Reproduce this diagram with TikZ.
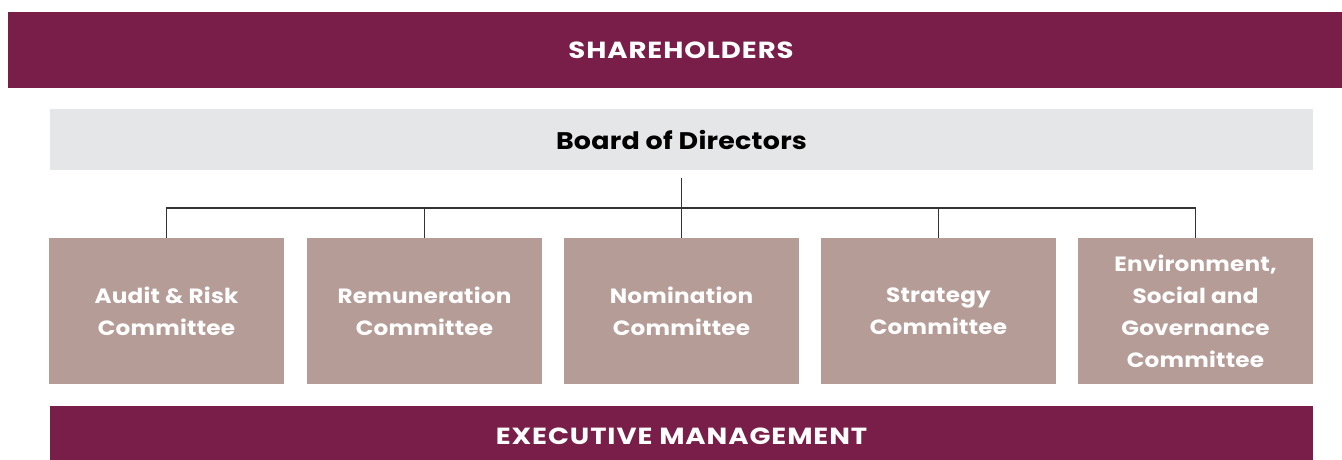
\documentclass[tikz,border=0pt]{standalone}
\usepackage{xcolor}
\usepackage{fontspec}
\setmainfont{Poppins}
\newfontfamily\spacedcaps{Poppins}[FakeStretch=1.18, LetterSpace=4]
\newfontfamily\spacedtext{Poppins}[FakeStretch=1.12, LetterSpace=1]
\usepackage{tikz}
\usetikzlibrary{positioning,calc}

\definecolor{wine}{HTML}{781E48}
\definecolor{taupe}{HTML}{B59C96}
\definecolor{lightgrey}{HTML}{E5E6E8}

\begin{document}
\begin{tikzpicture}[x=0.75pt, y=-0.75pt,
    bar/.style={rectangle, fill=wine, text=white, inner sep=0pt, font=\spacedcaps\fontsize{17.5}{20}\selectfont\bfseries},
    board/.style={rectangle, fill=lightgrey, text=black, inner sep=0pt, font=\spacedtext\fontsize{18}{21}\selectfont\bfseries},
    cmte/.style={rectangle, fill=taupe, text=white, inner sep=0pt, align=center,
        minimum width=176.25pt, minimum height=109.5pt, font=\spacedtext\fontsize{15.5}{24}\selectfont\bfseries},
    link/.style={draw=black!80, line width=0.9pt}]
    \useasboundingbox (0,0) rectangle (1342,460);

    % top and bottom bands
    \node[bar, minimum width=1009.5pt, minimum height=57pt] (share) at (681,50) {SHAREHOLDERS};
    \node[board, minimum width=947.25pt, minimum height=45.75pt] (board) at (681.5,139.5) {Board of Directors};
    \node[bar, minimum width=947.25pt, minimum height=45pt] (exec) at (681.5,436) {EXECUTIVE MANAGEMENT};

    % committees
    \node[cmte] (audit) at (166.5,311) {Audit \& Risk\\Committee};
    \node[cmte] (remun) at (424.5,311) {Remuneration\\Committee};
    \node[cmte] (nomin) at (681.5,311) {Nomination\\Committee};
    \node[cmte] (strat) at (938.5,311) {Strategy\\Committee};
    \node[cmte] (esg) at (1195.5,311) {Environment,\\Social and\\Governance\\Committee};

    % tree lines
    \coordinate (split) at (681.5,208);
    \draw[link] ([yshift=-6pt]board.south) -- (split);
    \draw[link] (audit.north) -- (audit.north |- split) -- (esg.north |- split) -- (esg.north);
    \foreach \c in {remun,nomin,strat}
        \draw[link] (\c.north) -- (\c.north |- split);
\end{tikzpicture}
\end{document}
